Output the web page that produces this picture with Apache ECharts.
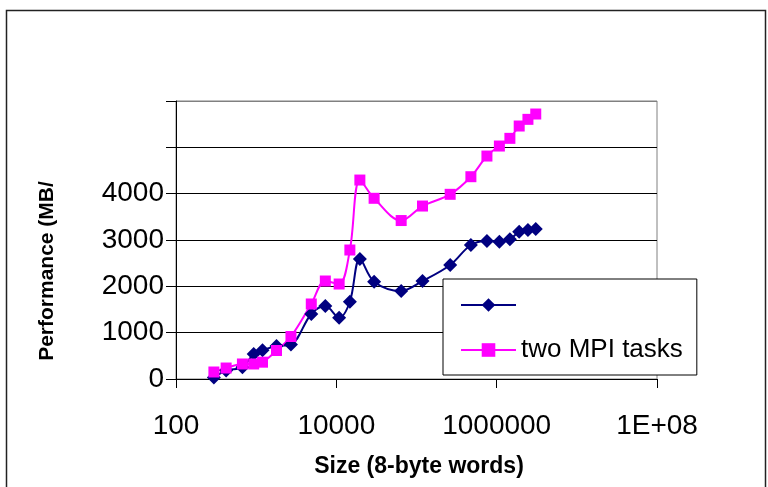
<!DOCTYPE html>
<html>
<head>
<meta charset="utf-8">
<script src="https://cdn.jsdelivr.net/npm/echarts@6/dist/echarts.min.js"></script>
<style>
  html, body { margin: 0; padding: 0; background: #fff; }
  #chart { width: 768px; height: 487px; }
</style>
</head>
<body>
<div id="chart"></div>
<script>
// Message sizes (8-byte words)
const sizes = [297, 422, 674, 931, 1199, 1794, 2716, 4870, 7290, 10840, 14750, 19660,
               29600, 64400, 118900, 263000, 477000, 756000, 1081000, 1462000, 1910000,
               2455000, 3073000];
// Performance (MB/s), single task
const oneTask = [30, 183, 255, 540, 620, 712, 745, 1403, 1575, 1323, 1668, 2590,
                 2100, 1900, 2115, 2460, 2892, 2978, 2963, 3015, 3179, 3215, 3237];
// Performance (MB/s), two MPI tasks
const twoTasks = [151, 237, 324, 324, 363, 615, 917, 1619, 2115, 2050, 2784, 4294,
                  3900, 3420, 3733, 3986, 4366, 4812, 5028, 5194, 5460, 5604, 5719];
const seriesNames = [' ', 'two MPI tasks'];
const yTickMaxLabelled = 4000;
const xTickText = { 100: '100', 10000: '10000', 1000000: '1000000', 100000000: '1E+08' };

const font = '"Liberation Sans", Arial, sans-serif';
const chart = echarts.init(document.getElementById('chart'), null, { renderer: 'canvas' });

const pairs = (xs, ys) => xs.map((x, i) => [x, ys[i]]);

chart.setOption({
  animation: false,
  backgroundColor: '#fff',
  grid: {
    left: 176, right: 111, top: 101, bottom: 108,
    show: true, borderColor: '#808080', borderWidth: 1, backgroundColor: 'transparent'
  },
  xAxis: {
    type: 'log', logBase: 100, min: 100, max: 1e8,
    axisLine: { lineStyle: { color: '#000', width: 1 } },
    axisTick: { show: true, length: 9, lineStyle: { color: '#000' } },
    minorTick: { show: false },
    splitLine: { show: false },
    axisLabel: {
      color: '#000', fontFamily: font, fontSize: 28, margin: 33,
      formatter: v => xTickText[Math.round(v)] || String(Math.round(v))
    }
  },
  yAxis: {
    type: 'value', min: 0, max: 6000, interval: 1000,
    axisLine: { show: true, lineStyle: { color: '#000', width: 1 } },
    axisTick: { show: true, length: 10, lineStyle: { color: '#000' } },
    splitLine: { show: true, lineStyle: { color: ['#000', '#000', '#000', '#000', '#000', '#000', '#808080'], width: 1 } },
    axisLabel: {
      color: '#000', fontFamily: font, fontSize: 28, margin: 12,
      formatter: v => (v <= yTickMaxLabelled ? String(v) : '')
    }
  },
  legend: {
    orient: 'vertical', left: 443, top: 279,
    backgroundColor: '#fff', borderColor: '#000', borderWidth: 1,
    padding: [12, 14, 11, 17],
    itemWidth: 55, itemHeight: 17, itemGap: 17,
    data: seriesNames,
    textStyle: { color: '#000', fontFamily: font, fontSize: 26, lineHeight: 28 }
  },
  series: [
    {
      name: seriesNames[0], type: 'line', smooth: 0.35,
      data: pairs(sizes, oneTask),
      symbol: 'diamond', symbolSize: 14,
      lineStyle: { color: '#000080', width: 2 },
      itemStyle: { color: '#000080' }
    },
    {
      name: seriesNames[1], type: 'line', smooth: 0.35,
      data: pairs(sizes, twoTasks),
      symbol: 'rect', symbolSize: 11,
      lineStyle: { color: '#ff00ff', width: 2 },
      itemStyle: { color: '#ff00ff' }
    }
  ],
  graphic: [
    {
      type: 'rect', silent: true, z: -1,
      shape: { x: 6.5, y: 10.5, width: 759, height: 600 },
      style: { fill: 'none', stroke: '#222', lineWidth: 1.5 }
    },
    {
      type: 'text', x: 47, y: 271, rotation: Math.PI / 2,
      style: {
        text: 'Performance (MB/', fill: '#000', font: 'bold 21px ' + font,
        textAlign: 'center', textVerticalAlign: 'middle'
      }
    },
    {
      type: 'text', x: 419, y: 467,
      style: {
        text: 'Size (8-byte words)', fill: '#000', font: 'bold 23px ' + font,
        textAlign: 'center', textVerticalAlign: 'middle'
      }
    }
  ]
});
</script>
</body>
</html>
